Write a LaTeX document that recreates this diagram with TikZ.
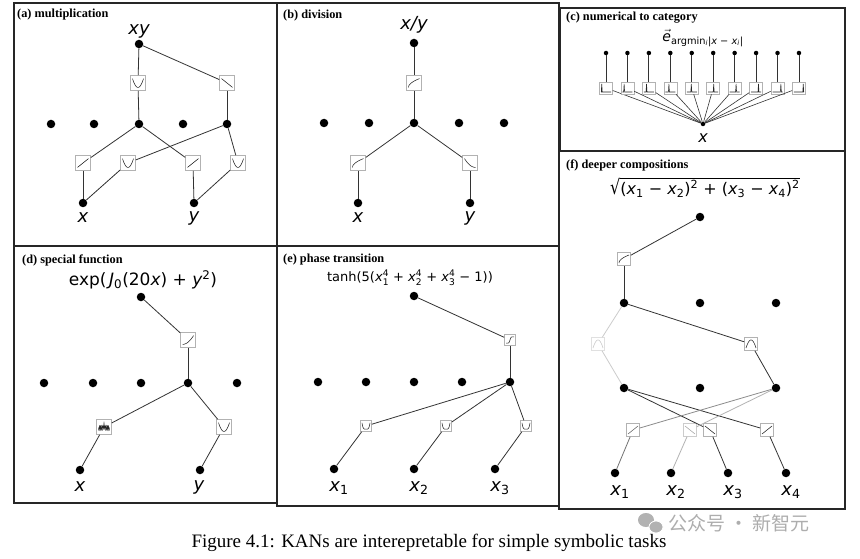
\documentclass[tikz,border=0pt]{standalone}
\usepackage{fontspec}
\usepackage{amsmath}
\setmainfont{Liberation Serif}
\newfontfamily\dv{DejaVu Sans}
\newfontfamily\cjk{Noto Sans CJK SC}
\newcommand\vi[1]{{\itshape #1}}
\newcommand\ms[2]{$\text{\itshape #1}_{\text{#2}}$}
\newcommand\mss[3]{$\text{\itshape #1}^{\text{#2}}_{\text{#3}}$}
\newcommand\edg[3][]{\draw[ed,#1] (#2) -- (#3);}
\def\icw{5.5}
\def\icc{black!85}
\def\icl{0.55pt}
\begin{document}
\begin{tikzpicture}[x=1pt,y=-1pt,
 panel/.style={draw=black!85,line width=1.1pt},
 ttl/.style={font=\fontsize{12.3}{14}\selectfont\bfseries,anchor=west,inner sep=0pt},
 kdot/.style={circle,fill=black,inner sep=0pt,minimum size=8.5pt},
 sdot/.style={circle,fill=black,inner sep=0pt,minimum size=4.5pt},
 icw/.code={\def\icw{#1}},
 icc/.code={\def\icc{#1}},
 icl/.code={\def\icl{#1}},
 fb/.style={draw=black!30,fill=white,line width=0.6pt,minimum size=15pt,inner sep=0pt},
 sb/.style={fb,minimum size=11pt,icw=4},
 mb/.style={fb,minimum size=13pt,icw=5},
 lbl/.style={font=\dv\fontsize{18}{20}\selectfont,inner sep=0pt},
 ed/.style={draw=black!80,line width=0.8pt},
 ic/.style={path picture={\draw[line width=\icl,draw=\icc,shift={(path picture bounding box.center)}] plot[domain=-1:1,samples=121] ({\icw*\x},{\icw*(#1)});}},
 sp/.style={path picture={\draw[line width=0.55pt,draw=\icc,shift={(path picture bounding box.center)}] (-\icw,0.8*\icw) -- ({\icw*(#1-0.1)},0.8*\icw) -- ({\icw*(#1)},-0.8*\icw) -- ({\icw*(#1+0.1)},0.8*\icw) -- (\icw,0.8*\icw);}},
 i-up/.style={ic={-0.8*\x}},
 i-dn/.style={ic={0.8*\x}},
 i-U/.style={ic={0.8-1.6*\x*\x}},
 i-cap/.style={ic={-0.8+1.6*\x*\x}},
 i-sqrt/.style={ic={0.8-1.6*sqrt((\x+1)/2)}},
 i-exp/.style={ic={0.8-1.6*((\x+1)/2)^2}},
 i-inv/.style={ic={-0.8+1.6*(1-((1-\x)/2)^2)}},
 i-tanh/.style={ic={-0.8*tanh(4*\x)}},
 i-U4/.style={ic={0.8-1.6*(\x*\x)*(\x*\x)}},
 i-bes/.style={icl=0.4pt,ic={0.2-0.45*cos(deg(30*\x))-0.6/(1+120*\x*\x)}}
]
\fill[white] (0,0) rectangle (860,559);
\useasboundingbox (0,0) rectangle (860,559);

% panels
\draw[panel] (14,3) rectangle (277,246);
\draw[panel] (277,3) rectangle (559,246);
\draw[panel] (560,8) rectangle (845,151);
\draw[panel] (14,246) rectangle (277,503);
\draw[panel] (277,246) rectangle (559,506);
\draw[panel] (559,151) rectangle (845,509);

\node[ttl] (ta) at (17,15) {(a) multiplication};
\node[ttl] (tb) at (283,16) {(b) division};
\node[ttl] (tc) at (566,18) {(c) numerical to category};
\node[ttl] (td) at (22,260) {(d) special function};
\node[ttl] (te) at (283,260) {(e) phase transition};
\node[ttl] (tf) at (566,165) {(f) deeper compositions};

% ---------- (a)
\node[lbl] (alab) at (139,31) {\vi{xy}};
\node[kdot] (a0) at (139,44) {};
\node[fb,i-U] (ab1) at (138,83) {};
\node[fb,i-dn] (ab2) at (227,83) {};
\node[kdot] (a1) at (51,124) {};
\node[kdot] (a2) at (94,124) {};
\node[kdot] (a3) at (139,124) {};
\node[kdot] (a4) at (183,124) {};
\node[kdot] (a5) at (227,124) {};
\node[fb,i-up] (ac1) at (83,163) {};
\node[fb,i-U] (ac2) at (128,163) {};
\node[fb,i-up] (ac3) at (193,163) {};
\node[fb,i-U] (ac4) at (238,163) {};
\node[kdot] (ax) at (83,203) {};
\node[kdot] (ay) at (194,203) {};
\node[lbl] (axl) at (83,218) {\vi{x}};
\node[lbl] (ayl) at (194,218) {\vi{y}};
\edg{a0}{ab1}\edg{ab1}{a3}\edg{a0}{ab2}\edg{ab2}{a5}
\edg{a3}{ac1}\edg{a5}{ac2}\edg{a3}{ac3}\edg{a5}{ac4}
\edg{ac1}{ax}\edg{ac2}{ax}\edg{ac3}{ay}\edg{ac4}{ay}

% ---------- (b)
\node[lbl] (blab) at (414,25) {\vi{x/y}};
\node[kdot] (b0) at (414,43) {};
\node[fb,i-sqrt] (bb1) at (414,83) {};
\node[kdot] (b1) at (324,123) {};
\node[kdot] (b2) at (369,123) {};
\node[kdot] (b3) at (414,123) {};
\node[kdot] (b4) at (459,123) {};
\node[kdot] (b5) at (504,123) {};
\node[fb,i-sqrt] (bc1) at (358,163) {};
\node[fb,i-inv] (bc2) at (470,163) {};
\node[kdot] (bx) at (358,203) {};
\node[kdot] (by) at (470,203) {};
\node[lbl] (bxl) at (358,218) {\vi{x}};
\node[lbl] (byl) at (470,218) {\vi{y}};
\edg{b0}{bb1}\edg{bb1}{b3}\edg{b3}{bc1}\edg{b3}{bc2}\edg{bc1}{bx}\edg{bc2}{by}

% ---------- (c)
\node[font=\dv\fontsize{14}{16}\selectfont,inner sep=0pt] (clab) at (703,38) {$\vec{\text{\itshape e}}$\textsubscript{argmin\textsubscript{\itshape i}|\vi{x} − \vi{x}\textsubscript{\itshape i}|}};
\node[sdot] (cx) at (703,124) {};
\node[font=\dv\fontsize{16}{18}\selectfont,inner sep=0pt] (cxl) at (703,138) {\vi{x}};
\foreach \i in {1,...,10}{
  \pgfmathsetmacro\cxx{606+21.44*(\i-1)}
  \pgfmathsetmacro\pp{-0.85+0.19*(\i-1)}
  \node[sdot] (ct\i) at (\cxx,53) {};
  \node[fb,minimum width=13pt,minimum height=12pt,icw=5,sp=\pp] (cb\i) at (\cxx,88) {};
  \draw[ed] (ct\i) -- (cb\i);
  \draw[ed,line width=0.6pt] (cb\i) -- (cx);
}

% ---------- (d)
\node[font=\dv\fontsize{17}{20}\selectfont,inner sep=0pt] (dlab) at (143,280) {exp(\hspace{0.15em}\vi{J}\textsubscript{0}(20\vi{x}) + \vi{y}\textsuperscript{2})};
\node[kdot] (d0) at (141,297) {};
\node[fb,i-exp] (db1) at (188,340) {};
\node[kdot] (d1) at (44,383) {};
\node[kdot] (d2) at (93,383) {};
\node[kdot] (d3) at (141,383) {};
\node[kdot] (d4) at (188,383) {};
\node[kdot] (d5) at (237,383) {};
\node[fb,i-bes] (dc1) at (104,427) {};
\node[fb,i-U] (dc2) at (224,427) {};
\node[kdot] (dx) at (80,470) {};
\node[kdot] (dy) at (200,470) {};
\node[lbl] (dxl) at (80,487) {\vi{x}};
\node[lbl] (dyl) at (199,487) {\vi{y}};
\edg{d0}{db1}\edg{db1}{d4}\edg{d4}{dc1}\edg{d4}{dc2}\edg{dc1}{dx}\edg{dc2}{dy}

% ---------- (e)
\node[font=\dv\fontsize{13}{15}\selectfont,inner sep=0pt] (elab) at (410,278) {tanh(5(\mss{x}{4}{1} + \mss{x}{4}{2} + \mss{x}{4}{3} − 1))};
\node[kdot] (e0) at (414,296) {};
\node[sb,i-tanh] (eb1) at (510,340) {};
\node[kdot] (e1) at (318,382) {};
\node[kdot] (e2) at (366,382) {};
\node[kdot] (e3) at (414,382) {};
\node[kdot] (e4) at (462,382) {};
\node[kdot] (e5) at (510,382) {};
\node[sb,i-U4] (ec1) at (366,426) {};
\node[sb,i-U4] (ec2) at (446,426) {};
\node[sb,i-U4] (ec3) at (526,426) {};
\node[kdot] (ex1) at (334,469) {};
\node[kdot] (ex2) at (414,469) {};
\node[kdot] (ex3) at (495,469) {};
\node[lbl] (ex1l) at (339,488) {\ms{x}{1}};
\node[lbl] (ex2l) at (419,488) {\ms{x}{2}};
\node[lbl] (ex3l) at (500,488) {\ms{x}{3}};
\edg{e0}{eb1}\edg{eb1}{e5}\edg{e5}{ec1}\edg{e5}{ec2}\edg{e5}{ec3}
\edg{ec1}{ex1}\edg{ec2}{ex2}\edg{ec3}{ex3}

% ---------- (f)
\node[font=\dv\fontsize{16}{18}\selectfont,inner sep=0pt] (flab) at (705,188) {\scalebox{1}[1.25]{√}\vbox{\hrule height 0.8pt\kern1.2pt\hbox{(\ms{x}{1} − \ms{x}{2})\textsuperscript{2} + (\ms{x}{3} − \ms{x}{4})\textsuperscript{2}}}};
\node[kdot] (f0) at (700,217) {};
\node[mb,i-sqrt] (fb1) at (624,259) {};
\node[kdot] (f21) at (624,303) {};
\node[kdot] (f22) at (700,303) {};
\node[kdot] (f23) at (776,303) {};
\node[mb,draw=black!12,icc=black!22,i-cap] (fb2) at (598,344) {};
\node[mb,i-cap] (fb3) at (751,344) {};
\node[kdot] (f31) at (624,388) {};
\node[kdot] (f32) at (700,388) {};
\node[kdot] (f33) at (776,388) {};
\node[mb,icc=black!60,i-up] (fc1) at (633,430) {};
\node[mb,draw=black!20,icc=black!35,i-dn] (fc2) at (690,430) {};
\node[mb,i-dn] (fc3) at (710,430) {};
\node[mb,i-up] (fc4) at (767,430) {};
\node[kdot] (fx1) at (615,473) {};
\node[kdot] (fx2) at (671,473) {};
\node[kdot] (fx3) at (728,473) {};
\node[kdot] (fx4) at (786,473) {};
\node[lbl] (fx1l) at (620,492) {\ms{x}{1}};
\node[lbl] (fx2l) at (676,492) {\ms{x}{2}};
\node[lbl] (fx3l) at (733,492) {\ms{x}{3}};
\node[lbl] (fx4l) at (791,492) {\ms{x}{4}};
\edg{f0}{fb1}\edg{fb1}{f21}
\edg[draw=black!20]{f21}{fb2}\edg[draw=black!20]{fb2}{f31}
\edg{f21}{fb3}\edg{fb3}{f33}
\edg{f31}{fc3}\edg{f31}{fc4}
\edg[draw=black!45]{f33}{fc1}\edg[draw=black!30]{f33}{fc2}
\edg[draw=black!55]{fc1}{fx1}\edg[draw=black!30]{fc2}{fx2}
\edg{fc3}{fx3}\edg{fc4}{fx4}

% ---------- caption and watermark
\node[font=\fontsize{19}{22}\selectfont,inner sep=0pt] (cap) at (429,543) {Figure 4.1: KANs are interepretable for simple symbolic tasks};
\fill[black!30] (646,520) ellipse (8 and 7);
\fill[black!30,draw=white,line width=0.8pt] (656,527) ellipse (7 and 6);
\node[font=\cjk\fontsize{19}{22}\selectfont,text=black!32,anchor=west,inner sep=0pt] (wm) at (668,523) {公众号 · 新智元};
\end{tikzpicture}
\end{document}
